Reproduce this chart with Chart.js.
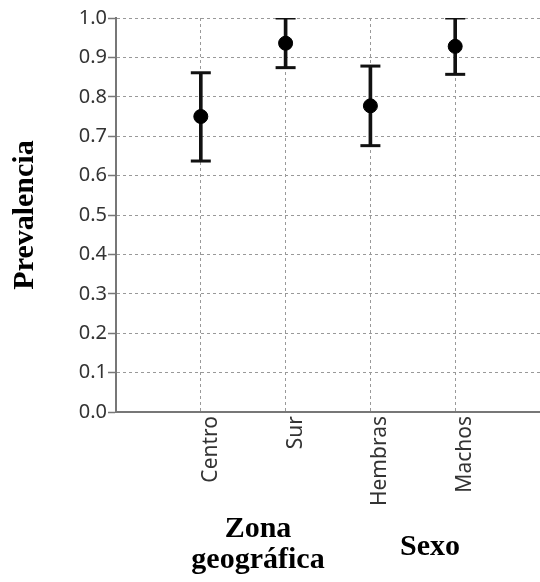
<!DOCTYPE html>
<html>
<head>
<meta charset="utf-8">
<script src="https://cdn.jsdelivr.net/npm/chart.js@4.4.1/dist/chart.umd.min.js"></script>
<style>
  body { margin: 0; background: #fff; }
  #wrap { width: 540px; height: 582px; }
</style>
</head>
<body>
<div id="wrap"><canvas id="chart" width="540" height="582"></canvas></div>
<script>
// data
const categories = ["Centro", "Sur", "Hembras", "Machos"];
const prevalence = [0.75, 0.936, 0.777, 0.928];
const lowerCI = [0.637, 0.874, 0.676, 0.857];
const upperCI = [0.861, 1.0, 0.878, 1.0];
const groupNames = [["Zona", "geográfica"], ["Sexo"]];

const xPos = categories.map((c, i) => i + 1);

// group titles under the axis
const groupLabels = {
  id: "groupLabels",
  afterDraw(chart) {
    const ctx = chart.ctx;
    ctx.save();
    ctx.fillStyle = "#000";
    ctx.font = 'bold 30px "Liberation Serif"';
    ctx.textAlign = "center";
    ctx.textBaseline = "alphabetic";
    // Zona geográfica
    ctx.fillText(groupNames[0][0], 258, 537);
    ctx.fillText(groupNames[0][1], 258, 568);
    // Sexo
    ctx.fillText(groupNames[1][0], 430, 555);
    ctx.restore();
  }
};

const ctx = document.getElementById("chart").getContext("2d");
new Chart(ctx, {
  data: {
    datasets: [
      {
        type: "scatter",
        label: "Prevalencia",
        data: xPos.map((x, i) => ({ x: x, y: prevalence[i] })),
        pointRadius: 7,
        pointBackgroundColor: "#000",
        pointBorderColor: "#000",
        order: 0
      },
      {
        type: "scatter",
        label: "caps",
        data: xPos.map((x, i) => ({ x: x, y: upperCI[i] }))
          .concat(xPos.map((x, i) => ({ x: x, y: lowerCI[i] }))),
        pointStyle: "line",
        pointRadius: 10,
        pointBorderWidth: 3,
        pointBorderColor: "#111",
        order: 1
      },
      {
        type: "bar",
        label: "IC",
        data: xPos.map((x, i) => ({ x: x, y: [lowerCI[i], upperCI[i]] })),
        backgroundColor: "#111",
        barThickness: 3,
        order: 2
      }
    ]
  },
  options: {
    responsive: false,
    animation: false,
    layout: {
      autoPadding: false,
      padding: { top: 18, right: 0, bottom: 0, left: 0 }
    },
    plugins: {
      legend: { display: false },
      tooltip: { enabled: false }
    },
    scales: {
      x: {
        type: "linear",
        min: 0,
        max: 5,
        offset: false,
        afterBuildTicks: (axis) => {
          axis.ticks = xPos.map((v) => ({ value: v }));
        },
        afterFit: (axis) => {
          axis.height = 170;
          axis.paddingRight = 0;
        },
        ticks: {
          autoSkip: false,
          minRotation: 90,
          maxRotation: 90,
          padding: 4,
          labelOffset: 10,
          color: "#333",
          font: { family: "Noto Sans", size: 21 },
          callback: (v) => categories[v - 1] || ""
        },
        grid: {
          offset: false,
          color: "#999",
          lineWidth: 1,
          drawTicks: false
        },
        border: { display: true, color: "#777", width: 2, dash: [3, 3] }
      },
      y: {
        min: 0,
        max: 1,
        afterFit: (axis) => { axis.width = 116; },
        ticks: {
          stepSize: 0.1,
          padding: 1,
          color: "#333",
          font: { family: "Noto Sans", size: 20 },
          callback: (v) => v.toFixed(1)
        },
        grid: {
          color: "#999",
          lineWidth: 1,
          tickLength: 8,
          tickColor: "#777",
          tickWidth: 1.5,
          tickBorderDash: []
        },
        border: { display: true, color: "#777", width: 2, dash: [3, 3] },
        title: {
          display: true,
          text: "Prevalencia",
          color: "#000",
          padding: { top: 7, bottom: 0 },
          font: { family: "Liberation Serif", size: 30, weight: "bold" }
        }
      }
    }
  },
  plugins: [groupLabels]
});
</script>
</body>
</html>
